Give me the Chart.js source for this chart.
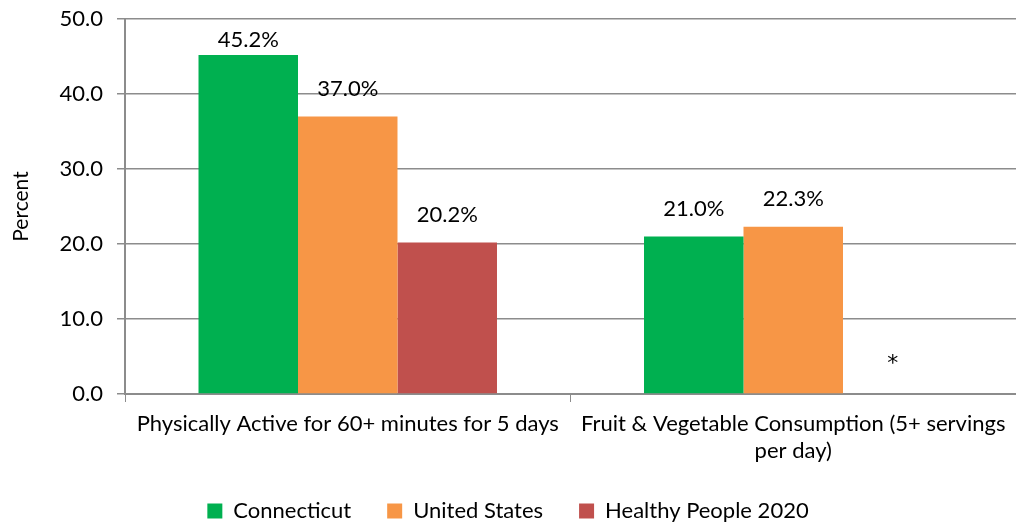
<!DOCTYPE html>
<html lang="en">
<head>
    <meta charset="UTF-8">
    <title>Physical Activity and Nutrition</title>
    <script src="https://cdn.jsdelivr.net/npm/chart.js"></script>
    <style>
        html, body { margin: 0; padding: 0; background: #fff; }
        #wrap { width: 1016px; height: 525px; }
    </style>
</head>
<body>
    <div id="wrap"><canvas id="paChart" width="1016" height="525"></canvas></div>

    <script>
        const categories = [
            'Physically Active for 60+ minutes for 5 days',
            ['Fruit & Vegetable Consumption (5+ servings', 'per day)']
        ];
        const seriesNames = ['Connecticut', 'United States', 'Healthy People 2020'];
        const connecticut = [45.2, 21.0];
        const unitedStates = [37.0, 22.3];
        const healthyPeople = [20.2, null];   // no target -> shown as "*"
        const yTicks = [0, 10, 20, 30, 40, 50];

        const colors = ['#00B050', '#F79646', '#C0504D'];
        const gridGray = '#8C8C8C';
        const fontFamily = 'Lato, "Open Sans", sans-serif';

        // labels above bars, "*" where value is missing
        const barLabels = {
            id: 'barLabels',
            afterDatasetsDraw(chart) {
                const ctx = chart.ctx;
                const y = chart.scales.y;
                ctx.save();
                ctx.fillStyle = '#000';
                ctx.textAlign = 'center';
                ctx.textBaseline = 'middle';
                chart.data.datasets.forEach((ds, di) => {
                    const meta = chart.getDatasetMeta(di);
                    meta.data.forEach((bar, i) => {
                        const v = ds.data[i];
                        if (v === null) {
                            ctx.font = '22px "DejaVu Sans", sans-serif';
                            ctx.fillText('*', bar.x, y.getPixelForValue(0) - 30);
                            return;
                        }
                        ctx.font = '22px ' + fontFamily;
                        let py = y.getPixelForValue(v) - 28;
                        py = Math.max(py, chart.chartArea.top + 21);
                        ctx.fillText(v.toFixed(1) + '%', bar.x, py);
                    });
                });
                ctx.restore();
            }
        };

        const data = {
            labels: categories,
            datasets: [
                { label: seriesNames[0], data: connecticut, backgroundColor: colors[0] },
                { label: seriesNames[1], data: unitedStates, backgroundColor: colors[1] },
                { label: seriesNames[2], data: healthyPeople, backgroundColor: colors[2] }
            ]
        };

        const config = {
            type: 'bar',
            data: data,
            options: {
                responsive: false,
                animation: false,
                layout: { padding: { top: 19, right: 0, left: 0, bottom: -7 } },
                datasets: {
                    bar: { barPercentage: 1.0, categoryPercentage: 0.67 }
                },
                scales: {
                    x: {
                        grid: {
                            drawOnChartArea: false,
                            drawTicks: true,
                            tickLength: 8,
                            color: gridGray
                        },
                        border: { color: gridGray, width: 2 },
                        ticks: {
                            color: '#000',
                            font: { size: 22, family: fontFamily },
                            maxRotation: 0,
                            padding: 9
                        },
                        afterFit(scale) { scale.height = 70; }
                    },
                    y: {
                        min: 0,
                        max: 50,
                        afterBuildTicks(scale) {
                            scale.ticks = yTicks.map(v => ({ value: v }));
                        },
                        grid: { color: gridGray, lineWidth: 1.5, tickLength: 8 },
                        border: { color: gridGray, width: 2 },
                        ticks: {
                            color: '#000',
                            font: { size: 22, family: fontFamily },
                            padding: 14,
                            callback: v => v.toFixed(1)
                        },
                        title: {
                            display: true,
                            text: 'Percent',
                            color: '#000',
                            font: { size: 21, family: fontFamily },
                            padding: { top: 9, bottom: 0 }
                        },
                        afterFit(scale) {
                            scale.width = 125;
                            scale.paddingTop = 0;
                            scale.paddingBottom = 0;
                        }
                    }
                },
                plugins: {
                    legend: {
                        position: 'bottom',
                        labels: {
                            color: '#000',
                            font: { size: 22, family: fontFamily },
                            boxWidth: 15,
                            boxHeight: 15,
                            padding: 36
                        }
                    },
                    tooltip: { enabled: false },
                    title: { display: false }
                }
            },
            plugins: [barLabels]
        };

        new Chart(document.getElementById('paChart'), config);
    </script>
</body>
</html>
